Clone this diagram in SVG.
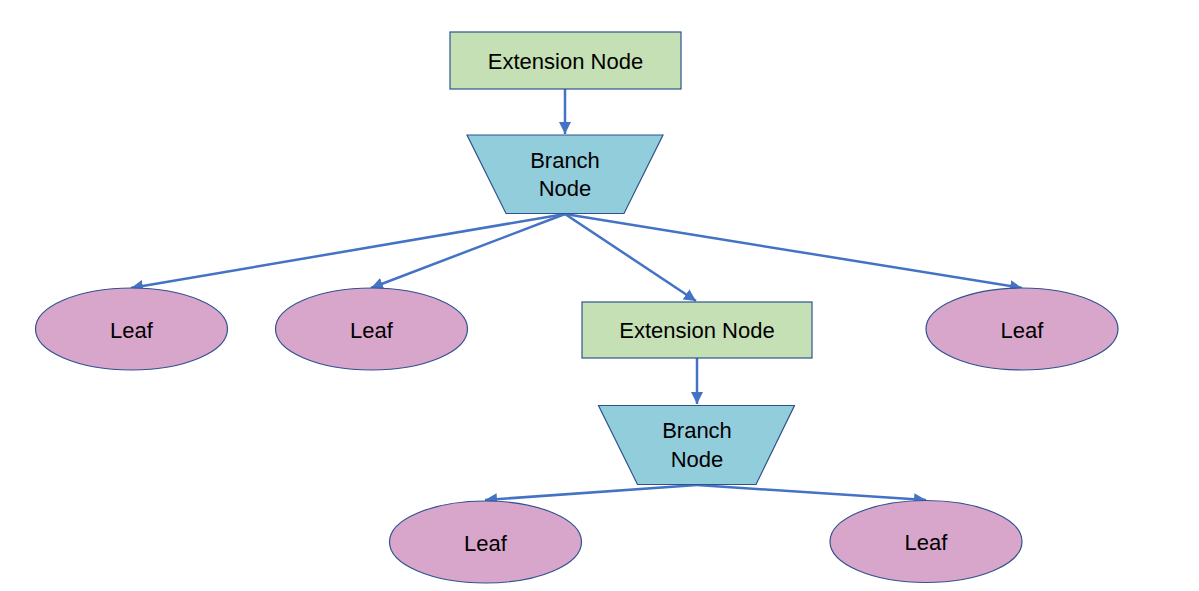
<svg xmlns="http://www.w3.org/2000/svg" width="1199" height="591" viewBox="0 0 1199 591">
<defs>
<style>
.rect{fill:#C5E0B4;stroke:#2F528F;stroke-width:1.2}
.trap{fill:#92CDDC;stroke:#2F528F;stroke-width:1.2}
.leaf{fill:#D9A6CB;stroke:#2F528F;stroke-width:1.2}
.t{font-family:"Liberation Sans",Arial,sans-serif;font-size:22px;fill:#000;text-anchor:middle}
.c{stroke:#4472C4;stroke-width:2.5;fill:none;marker-end:url(#ah)}
</style>
<marker id="ah" markerUnits="userSpaceOnUse" markerWidth="12" markerHeight="12" viewBox="0 0 10 10" refX="10" refY="5" orient="auto">
<path d="M0,0 L10,5 L0,10 z" fill="#4472C4"/>
</marker>
</defs>
<rect width="1199" height="591" fill="#fff"/>
<g id="connectors">
<line class="c" x1="565" y1="89" x2="565" y2="134"/>
<line class="c" x1="565" y1="214" x2="131" y2="288"/>
<line class="c" x1="565" y1="214" x2="371" y2="288"/>
<line class="c" x1="565" y1="214" x2="696" y2="301"/>
<line class="c" x1="565" y1="214" x2="1022" y2="288"/>
<line class="c" x1="697" y1="358" x2="697" y2="404"/>
<line class="c" x1="697" y1="485" x2="485" y2="500"/>
<line class="c" x1="697" y1="485" x2="926" y2="500"/>
</g>
<g id="ext1">
<rect class="rect" x="450" y="32" width="231" height="57"/>
<text class="t" x="565.5" y="68.5">Extension Node</text>
</g>
<g id="branch1">
<polygon class="trap" points="467,135 663,135 624,213.5 506,213.5"/>
<text class="t" x="565" y="167.5">Branch</text>
<text class="t" x="565" y="196">Node</text>
</g>
<g id="leaf1">
<ellipse class="leaf" cx="131.5" cy="329" rx="96" ry="41"/>
<text class="t" x="131.5" y="337.5">Leaf</text>
</g>
<g id="leaf2">
<ellipse class="leaf" cx="371.5" cy="329" rx="96" ry="41"/>
<text class="t" x="371.5" y="337.5">Leaf</text>
</g>
<g id="ext2">
<rect class="rect" x="582" y="302" width="230" height="56"/>
<text class="t" x="697" y="338">Extension Node</text>
</g>
<g id="leaf3">
<ellipse class="leaf" cx="1022" cy="329" rx="96" ry="41"/>
<text class="t" x="1022" y="337.5">Leaf</text>
</g>
<g id="branch2">
<polygon class="trap" points="598.5,405.5 794.5,405.5 756,484.5 637.5,484.5"/>
<text class="t" x="697" y="438">Branch</text>
<text class="t" x="697" y="466.5">Node</text>
</g>
<g id="leaf4">
<ellipse class="leaf" cx="485.5" cy="542" rx="96" ry="41"/>
<text class="t" x="485.5" y="550.5">Leaf</text>
</g>
<g id="leaf5">
<ellipse class="leaf" cx="926" cy="541.5" rx="96" ry="41"/>
<text class="t" x="926" y="550">Leaf</text>
</g>
</svg>
